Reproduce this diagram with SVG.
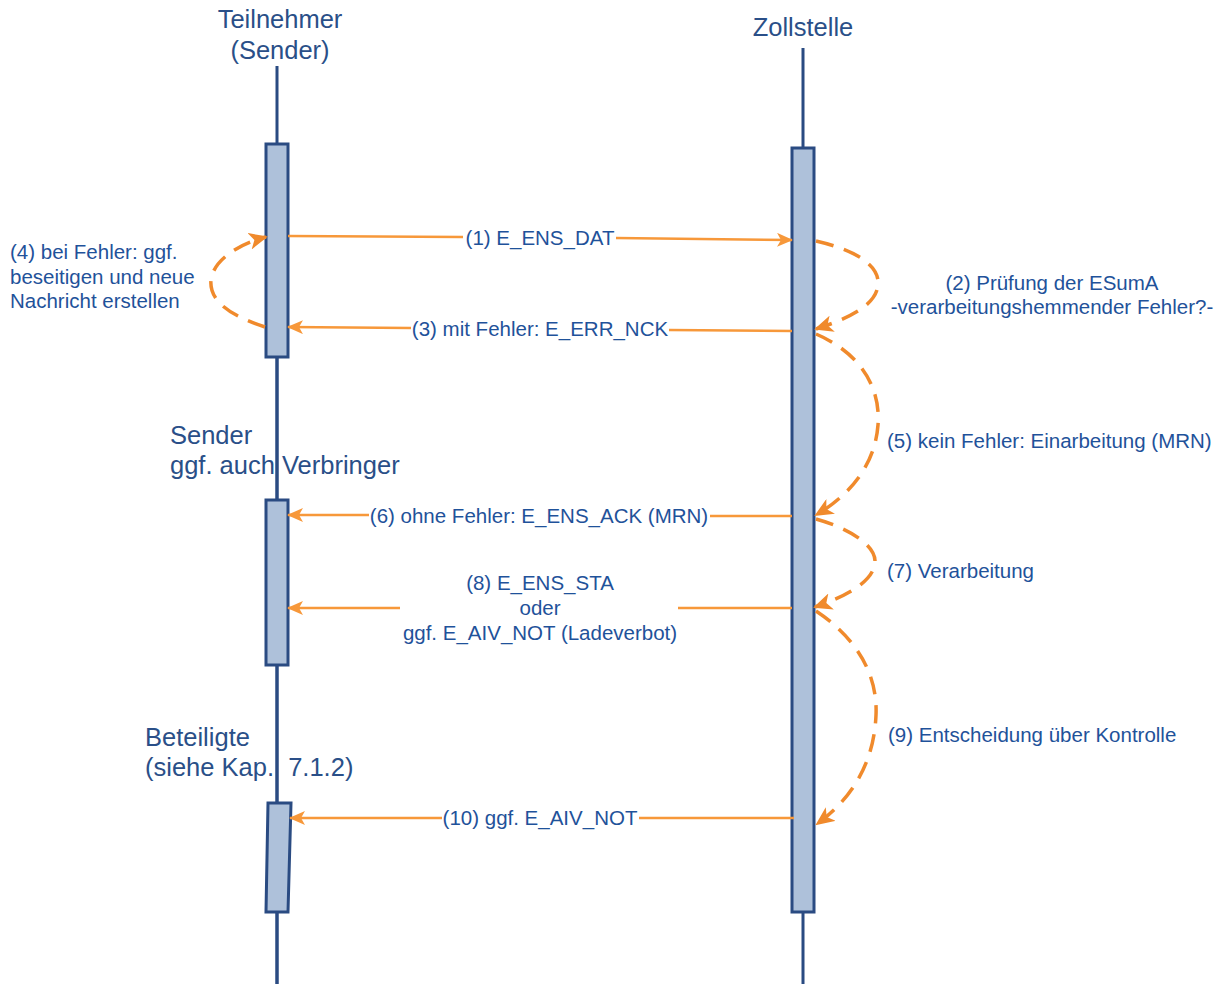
<svg xmlns="http://www.w3.org/2000/svg" width="1221" height="984" viewBox="0 0 1221 984">
<style>
.ll{stroke:#2A4B82;stroke-width:3;fill:none}
.act{fill:#AEC1DA;stroke:#2A4B82;stroke-width:3}
.title{font-family:"Liberation Sans",Arial,sans-serif;font-size:25.5px;fill:#2A4F88}
.lbl{font-family:"Liberation Sans",Arial,sans-serif;font-size:20.5px;fill:#1F529A}
.msg{stroke:#F7983A;stroke-width:2.5;fill:none}
.dash{stroke:#F08A2C;stroke-width:3.5;fill:none;stroke-dasharray:18 11}
</style>
<defs>
<marker id="ah" markerWidth="16" markerHeight="14" refX="15" refY="7" orient="auto" markerUnits="userSpaceOnUse">
<path d="M0,0 L16,7 L0,14 L4,7 z" fill="#F7983A"/>
</marker>
<marker id="ahd" markerWidth="19" markerHeight="17" refX="17" refY="8.5" orient="auto" markerUnits="userSpaceOnUse">
<path d="M0,0 L19,8.5 L0,17 L5,8.5 z" fill="#F08A2C"/>
</marker>
</defs>
<g id="teilnehmer">
<line class="ll" x1="277" y1="66" x2="277" y2="984"/>
<text class="title" x="280" y="28" text-anchor="middle">Teilnehmer</text>
<text class="title" x="280" y="59" text-anchor="middle">(Sender)</text>
<rect class="act" x="266" y="144" width="22" height="213"/>
</g>
<g id="sender">
<text class="title" x="170" y="444">Sender</text>
<text class="title" x="170" y="474">ggf. auch Verbringer</text>
<line class="ll" x1="277" y1="357" x2="277" y2="500"/>
<rect class="act" x="266" y="500" width="22" height="165"/>
</g>
<g id="beteiligte">
<text class="title" x="145" y="746">Beteiligte</text>
<text class="title" x="145" y="776" xml:space="preserve">(siehe Kap.  7.1.2)</text>
<line class="ll" x1="277" y1="665" x2="277" y2="984"/>
<polygon class="act" points="268,803 291,803 288,912 266,912"/>
</g>
<g id="zollstelle">
<line class="ll" x1="803" y1="48" x2="803" y2="984"/>
<text class="title" x="803" y="36" text-anchor="middle">Zollstelle</text>
<rect class="act" x="792" y="148" width="22" height="764"/>
</g>
<g id="connectors">
<line class="msg" x1="288" y1="236" x2="463" y2="237"/>
<line class="msg" x1="616" y1="238" x2="792" y2="240" marker-end="url(#ah)"/>
<text class="lbl" x="540" y="245" text-anchor="middle">(1) E_ENS_DAT</text>
<line class="msg" x1="792" y1="331" x2="669" y2="330"/>
<line class="msg" x1="411" y1="328" x2="288" y2="327" marker-end="url(#ah)"/>
<text class="lbl" x="540" y="336" text-anchor="middle">(3) mit Fehler: E_ERR_NCK</text>
<line class="msg" x1="792" y1="516" x2="710" y2="516"/>
<line class="msg" x1="369" y1="515" x2="288" y2="515" marker-end="url(#ah)"/>
<text class="lbl" x="539" y="523" text-anchor="middle">(6) ohne Fehler: E_ENS_ACK (MRN)</text>
<line class="msg" x1="792" y1="608" x2="678" y2="608"/>
<line class="msg" x1="400" y1="608" x2="288" y2="608" marker-end="url(#ah)"/>
<text class="lbl" x="540" y="590" text-anchor="middle">(8) E_ENS_STA</text>
<text class="lbl" x="540" y="615" text-anchor="middle">oder</text>
<text class="lbl" x="540" y="640" text-anchor="middle">ggf. E_AIV_NOT (Ladeverbot)</text>
<line class="msg" x1="794" y1="818" x2="639" y2="818"/>
<line class="msg" x1="442" y1="818" x2="290" y2="818" marker-end="url(#ah)"/>
<text class="lbl" x="540" y="825" text-anchor="middle">(10) ggf. E_AIV_NOT</text>
<path class="dash" d="M816,241 C855,250 880,265 878,285 C876,305 850,318 816,329" marker-end="url(#ahd)"/>
<path class="dash" d="M265,327 C228,315 209,300 211,280 C213,262 235,245 266,237" marker-end="url(#ahd)"/>
<path class="dash" d="M816,334 C858,352 881,385 878,425 C875,465 850,495 816,515" marker-end="url(#ahd)"/>
<path class="dash" d="M816,519 C848,528 876,545 875,562 C874,580 850,595 815,607" marker-end="url(#ahd)"/>
<path class="dash" d="M816,611 C852,635 878,670 876,715 C874,765 850,800 817,824" marker-end="url(#ahd)"/>
</g>
<g id="notes">
<text class="lbl" x="1052" y="290" text-anchor="middle">(2) Prüfung der ESumA</text>
<text class="lbl" x="1052" y="314" text-anchor="middle">-verarbeitungshemmender Fehler?-</text>
<text class="lbl" x="10" y="259">(4) bei Fehler: ggf.</text>
<text class="lbl" x="10" y="284">beseitigen und neue</text>
<text class="lbl" x="10" y="308">Nachricht erstellen</text>
<text class="lbl" x="887" y="448">(5) kein Fehler: Einarbeitung (MRN)</text>
<text class="lbl" x="887" y="578">(7) Verarbeitung</text>
<text class="lbl" x="888" y="742">(9) Entscheidung über Kontrolle</text>
</g>
</svg>
